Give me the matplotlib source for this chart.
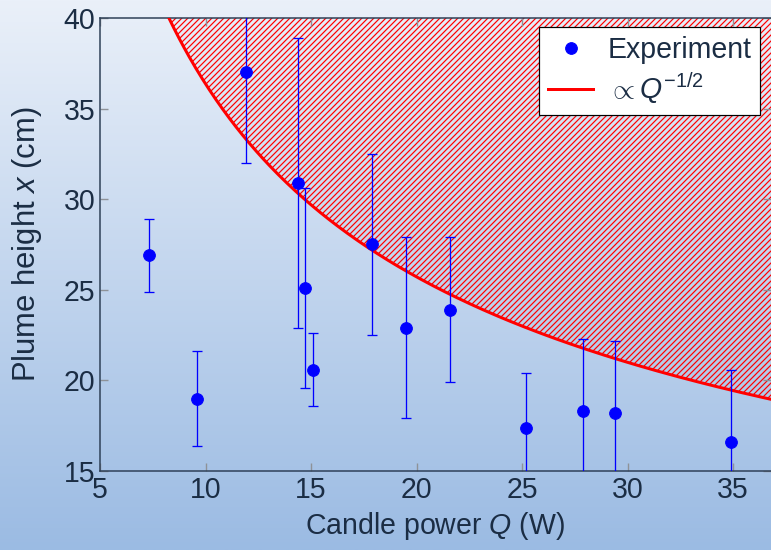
import numpy as np
import matplotlib
matplotlib.use("Agg")
import matplotlib.pyplot as plt
from matplotlib.collections import LineCollection
from matplotlib.transforms import IdentityTransform

# measured candle plumes
power = [7.3, 9.6, 11.9, 14.4, 14.7, 15.1, 17.9, 19.5, 21.6, 25.2, 27.9, 29.4, 34.9]
height = [26.9, 19.0, 37.0, 30.9, 25.1, 20.6, 27.5, 22.9, 23.9, 17.4, 18.3, 18.2, 16.6]
height_err = [2.0, 2.6, 5.0, 8.0, 5.5, 2.0, 5.0, 5.0, 4.0, 3.0, 4.0, 4.0, 4.0]

# scaling law x = c * Q^(-1/2)
coeff = 115.0

TEXT = "#1b2d44"
DPI = 72
FS = 28.5
XMAX, YMAX = 36.8, 40

plt.rcParams["font.family"] = ["Liberation Sans", "DejaVu Sans"]
plt.rcParams["mathtext.fontset"] = "custom"
plt.rcParams["mathtext.rm"] = "Liberation Sans"
plt.rcParams["mathtext.it"] = "Liberation Sans:italic"

fig = plt.figure(figsize=(771 / DPI, 550 / DPI), dpi=DPI)

# background gradient
bg = fig.add_axes([0, 0, 1, 1], zorder=-10)
grad = np.linspace(0, 1, 256)[:, None]
top = np.array([0xea, 0xf0, 0xf9]) / 255
bot = np.array([0x9b, 0xbb, 0xe3]) / 255
img = top[None, None, :] * (1 - grad[:, :, None]) + bot[None, None, :] * grad[:, :, None]
bg.imshow(img, aspect="auto", extent=[0, 1, 0, 1])
bg.axis("off")

ax = fig.add_axes([100 / 771, 79 / 550, 671 / 771, 453 / 550])
ax.patch.set_alpha(0)

q = np.linspace(5, XMAX, 400)
curve = coeff / np.sqrt(q)

# excluded region above the curve, hatched by hand (agg hatching looks muddy)
region = ax.fill_between(q, np.minimum(curve, YMAX), YMAX, facecolor="none",
                         edgecolor="none", linewidth=0, zorder=1)
offsets = np.arange(-800, 800, 6.0)
segs = [[(c, 0), (c + 800, 800)] for c in offsets]
hatch = LineCollection(segs, colors="#ff0000", linewidths=1.2,
                       transform=IdentityTransform(), zorder=1)
ax.add_collection(hatch, autolim=False)
hatch.set_clip_path(region.get_paths()[0], ax.transData)
hatch.set_clip_box(ax.bbox)

ax.plot(q, curve, color="red", lw=3.0, zorder=3, label=r"$\propto Q^{-1/2}$")

ax.errorbar(power, height, yerr=height_err, fmt="none", ecolor="blue",
            elinewidth=1.3, capsize=5.2, capthick=1.3, zorder=4)
ax.plot(power, height, "o", color="blue", ms=11.7, zorder=5, label="Experiment")

ax.set_xlim(5, XMAX)
ax.set_ylim(15, YMAX)
ax.set_xticks([5, 10, 15, 20, 25, 30, 35])
ax.set_yticks([15, 20, 25, 30, 35, 40])

for s in ["left", "bottom", "top"]:
    ax.spines[s].set_color("#2c3e55")
    ax.spines[s].set_linewidth(1.5)
ax.spines["right"].set_visible(False)
ax.tick_params(direction="in", length=8, width=1.4, color="#8e9298",
               top=True, right=True, labelsize=FS, labelcolor=TEXT, pad=4.5)

ax.set_xlabel(r"Candle power $Q$ (W)", fontsize=FS, color=TEXT, labelpad=6)
ax.set_ylabel(r"Plume height $x$ (cm)", fontsize=31, color=TEXT, labelpad=20)

handles, labels = ax.get_legend_handles_labels()
leg = ax.legend(handles[::-1], labels[::-1], loc="upper right",
                bbox_to_anchor=(0.984, 0.98), borderaxespad=0, fancybox=False,
                framealpha=1, edgecolor="black", fontsize=FS, handlelength=1.6,
                borderpad=0.3, labelspacing=0.25, handletextpad=0.5)
leg.get_frame().set_linewidth(1.2)
for t in leg.get_texts():
    t.set_color(TEXT)

fig.savefig("out.png", dpi=DPI)
